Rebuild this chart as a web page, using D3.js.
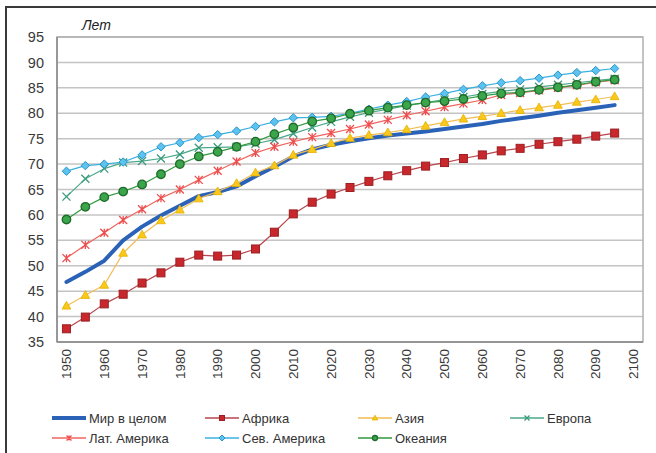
<!DOCTYPE html>
<html><head><meta charset="utf-8">
<script src="https://cdn.jsdelivr.net/npm/d3@7"></script>
<style>
body{margin:0;background:#fff;}
svg{display:block;font-family:"Liberation Sans",Arial,sans-serif;}
</style></head>
<body>
<svg id="c" width="656" height="453"></svg>
<script>
const categories = ["1950","1955","1960","1965","1970","1975","1980","1985","1990","1995","2000","2005","2010","2015","2020","2025","2030","2035","2040","2045","2050","2055","2060","2065","2070","2075","2080","2085","2090","2095","2100"];
const tickLabels = ["1950","1960","1970","1980","1990","2000","2010","2020","2030","2040","2050","2060","2070","2080","2090","2100"];
const yTicks = [35,40,45,50,55,60,65,70,75,80,85,90,95];
const world   = [46.8,48.8,51.0,55.0,57.7,59.9,61.8,63.7,64.5,65.6,67.6,69.5,71.5,72.9,73.8,74.5,75.1,75.6,76.0,76.4,76.9,77.4,77.9,78.5,79.0,79.5,80.1,80.6,81.1,81.6];
const africa  = [37.6,39.9,42.5,44.4,46.6,48.6,50.7,52.1,51.9,52.1,53.3,56.6,60.2,62.5,64.1,65.4,66.6,67.7,68.7,69.6,70.3,71.1,71.8,72.6,73.1,73.9,74.4,74.9,75.5,76.1];
const asia    = [42.1,44.2,46.2,52.5,56.1,58.9,61.0,63.2,64.6,66.2,68.3,69.7,71.8,72.9,74.1,75.1,75.7,76.2,76.8,77.5,78.2,78.9,79.4,80.0,80.6,81.1,81.6,82.2,82.7,83.3];
const europe  = [63.6,67.1,69.1,70.3,70.6,71.1,71.9,73.2,73.3,73.4,74.0,74.8,76.0,77.2,78.3,79.3,80.1,80.8,81.5,82.1,82.7,83.2,83.8,84.3,84.7,85.2,85.6,86.0,86.4,86.8];
const latam   = [51.5,54.1,56.5,59.0,61.1,63.3,65.0,66.9,68.7,70.5,72.2,73.4,74.4,75.3,76.1,76.9,77.8,78.7,79.6,80.4,81.2,81.9,82.6,83.6,84.0,84.5,85.0,85.5,86.1,86.5];
const namerica= [68.6,69.7,70.0,70.4,71.8,73.4,74.2,75.2,75.8,76.5,77.4,78.3,79.1,79.2,79.4,80.0,80.8,81.6,82.3,83.2,83.9,84.7,85.4,86.0,86.4,86.9,87.5,88.0,88.4,88.8];
const oceania = [59.1,61.6,63.5,64.6,66.0,68.0,70.0,71.5,72.4,73.4,74.4,75.9,77.2,78.4,79.0,79.9,80.5,81.1,81.6,82.1,82.4,82.8,83.4,83.9,84.1,84.6,85.1,85.6,86.2,86.6];
const seriesNames = ["Мир в целом","Африка","Азия","Европа","Лат. Америка","Сев. Америка","Океания"];

const series = [
  {name:seriesNames[0], values:world,   line:"#2a62b8", lw:4,   marker:null},
  {name:seriesNames[1], values:africa,  line:"#b9454c", lw:1.2, marker:"square", fill:"#c8282c", stroke:"#9a1f22"},
  {name:seriesNames[2], values:asia,    line:"#f2bd55", lw:1.2, marker:"triangle", fill:"#f8c81a", stroke:"#e6b000"},
  {name:seriesNames[3], values:europe,  line:"#4aa98a", lw:1.2, marker:"x", fill:"none", stroke:"#3a9a7c"},
  {name:seriesNames[4], values:latam,   line:"#f0645e", lw:1.2, marker:"star", fill:"none", stroke:"#ee4d4d"},
  {name:seriesNames[5], values:namerica,line:"#3ab0e2", lw:1.2, marker:"diamond", fill:"#5bc3ee", stroke:"#2a94cc"},
  {name:seriesNames[6], values:oceania, line:"#2f9a3e", lw:1.2, marker:"circle", fill:"#3aa54a", stroke:"#1f6b2a"}
];

const svg = d3.select("#c");
const L=57, R=643, T=37, B=342;

// outer frame
svg.append("rect").attr("x",6).attr("y",7).attr("width",660).attr("height",460)
  .attr("fill","none").attr("stroke","#3a3a3a").attr("stroke-width",2);

const x = d3.scaleBand().domain(categories).range([L,R]).padding(0);
const cx = c => x(c)+x.bandwidth()/2;
const y = d3.scaleLinear().domain([35,95]).range([B,T]);

// grid
svg.append("g").selectAll("line").data(yTicks).join("line")
  .attr("x1",L).attr("x2",R).attr("y1",d=>y(d)).attr("y2",d=>y(d))
  .attr("stroke","#c4c4c4").attr("stroke-width",1.5);
// plot border
svg.append("rect").attr("x",L).attr("y",T).attr("width",R-L).attr("height",B-T)
  .attr("fill","none").attr("stroke","#b0b0b0").attr("stroke-width",1.5);
svg.append("line").attr("x1",L).attr("x2",L).attr("y1",T).attr("y2",B).attr("stroke","#8a8a8a").attr("stroke-width",1.5);
svg.append("line").attr("x1",L).attr("x2",R).attr("y1",B).attr("y2",B).attr("stroke","#8a8a8a").attr("stroke-width",1.5);

// y axis
const yAxis = svg.append("g").attr("transform",`translate(${L},0)`)
  .call(d3.axisLeft(y).tickValues(yTicks).tickSize(0).tickPadding(13).tickFormat(d3.format("d")));
yAxis.select(".domain").remove();
yAxis.selectAll("text").attr("font-size",14.5).attr("fill","#3a3a3a").attr("font-family","Liberation Sans, Arial, sans-serif");

// x axis
const xAxis = svg.append("g").attr("transform",`translate(0,${B})`)
  .call(d3.axisBottom(x).tickValues(tickLabels).tickSize(0));
xAxis.select(".domain").remove();
xAxis.selectAll("text").attr("font-size",13.5).attr("fill","#3a3a3a")
  .attr("font-family","Liberation Sans, Arial, sans-serif")
  .attr("transform","rotate(-90)").attr("text-anchor","end")
  .attr("x",-7).attr("y",0).attr("dy","0.35em");

// title
svg.append("text").attr("x",82).attr("y",30).text("Лет")
  .attr("font-size",14).attr("font-style","italic").attr("fill","#222");

function drawMarker(g, type, s, fill, stroke){
  const r=s/2;
  if(type==="square") g.append("rect").attr("x",-r).attr("y",-r).attr("width",s).attr("height",s).attr("fill",fill).attr("stroke",stroke).attr("stroke-width",1);
  else if(type==="triangle") g.append("path").attr("d",`M0,${-r*1.15}L${r*1.1},${r*0.8}L${-r*1.1},${r*0.8}Z`).attr("fill",fill).attr("stroke",stroke).attr("stroke-width",0.8);
  else if(type==="x") g.append("path").attr("d",`M${-r},${-r}L${r},${r}M${-r},${r}L${r},${-r}`).attr("stroke",stroke).attr("stroke-width",1.3).attr("fill","none");
  else if(type==="star") g.append("path").attr("d",`M${-r},${-r}L${r},${r}M${-r},${r}L${r},${-r}M0,${-r}L0,${r}`).attr("stroke",stroke).attr("stroke-width",1.3).attr("fill","none");
  else if(type==="diamond") g.append("path").attr("d",`M0,${-r*1.2}L${r*1.2},0L0,${r*1.2}L${-r*1.2},0Z`).attr("fill",fill).attr("stroke",stroke).attr("stroke-width",1);
  else if(type==="circle") g.append("circle").attr("r",r).attr("fill",fill).attr("stroke",stroke).attr("stroke-width",1.3);
}
const msize = {square:8, triangle:8, x:8, star:8, diamond:7, circle:8.5};

const lineGen = d3.line().x((d,i)=>cx(categories[i])).y(d=>y(d));
series.forEach(s=>{
  const g = svg.append("g");
  g.append("path").attr("d",lineGen(s.values)).attr("fill","none")
    .attr("stroke",s.line).attr("stroke-width",s.lw).attr("stroke-linejoin","round").attr("stroke-linecap","round");
  if(s.marker){
    s.values.forEach((v,i)=>{
      const mg = g.append("g").attr("transform",`translate(${cx(categories[i])},${y(v)})`);
      drawMarker(mg, s.marker, msize[s.marker], s.fill, s.stroke);
    });
  }
});

// legend
const legendPos = [
  {x:52,  y:418}, {x:205, y:418}, {x:358, y:418}, {x:510, y:418},
  {x:52,  y:438}, {x:205, y:438}, {x:358, y:438}
];
series.forEach((s,i)=>{
  const p = legendPos[i];
  const g = svg.append("g").attr("transform",`translate(${p.x},${p.y})`);
  g.append("line").attr("x1",0).attr("x2",34).attr("y1",0).attr("y2",0)
    .attr("stroke",s.line).attr("stroke-width",s.marker?1.5:4);
  if(s.marker){
    const mg = g.append("g").attr("transform","translate(17,0)");
    drawMarker(mg, s.marker, 5, s.fill, s.stroke);
  }
  g.append("text").attr("x",37).attr("y",0).attr("dy","0.35em").text(s.name)
    .attr("font-size",13).attr("fill","#333");
});
</script>
</body></html>
